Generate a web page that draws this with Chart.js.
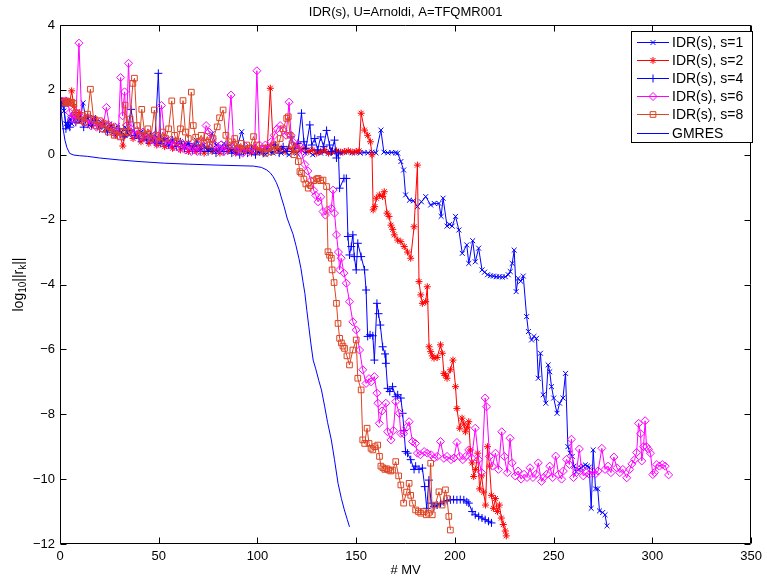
<!DOCTYPE html>
<html>
<head>
<meta charset="utf-8">
<script src="https://cdn.jsdelivr.net/npm/chart.js@4/dist/chart.umd.min.js"></script>
<style>
  html, body { margin: 0; padding: 0; background: #ffffff; }
  #wrap { width: 767px; height: 578px; }
</style>
</head>
<body>
<div id="wrap"><canvas id="c" width="767" height="578"></canvas></div>
<script>
// ---------------- data (x = # MV, y = log10 ||r_k||) ----------------
const chartTitle = 'IDR(s), U=Arnoldi, A=TFQMR001';
const xAxisLabel = '# MV';
const xTicks = [0, 50, 100, 150, 200, 250, 300, 350];
const yTicks = [-12, -10, -8, -6, -4, -2, 0, 2, 4];
const seriesNames = ['IDR(s), s=1', 'IDR(s), s=2', 'IDR(s), s=4', 'IDR(s), s=6', 'IDR(s), s=8', 'GMRES'];

const idrS1 = [[1,1.62],[2,1.35],[3,0.95],[4,0.85],[5,1.1],[6,0.95],[8,1.2],[10,1.05],[11.7,1.6],[13,1.1],[15,0.9],[17,1.15],[19,0.95],[21,1.0],[23,0.8],[25,0.95],[27,0.75],[29,0.9],[31,0.7],[33,0.85],[35,0.6],[37,0.75],[39,0.55],[41,0.7],[43,0.5],[45,0.6],[47,0.4],[49,0.55],[51,0.35],[53,0.5],[55,0.3],[57,0.45],[59,0.3],[61,0.4],[63,0.25],[65,0.35],[67,0.2],[69,0.45],[71,0.25],[73,0.3],[75,0.15],[77,0.65],[79,0.3],[81,0.2],[83,0.35],[85,0.15],[87,0.25],[89,0.1],[92,0.71],[94,0.2],[96,0.1],[98,0.25],[100,0.05],[102,0.15],[104,0.0],[106,0.1],[108,0.05],[110,0.15],[112,0.05],[114,0.1],[116,0.0],[118,0.1],[120,0.05],[122,0.15],[124,0.05],[126,0.1],[128,0.0],[130,0.08],[132,0.05],[134,0.1],[136,0.05],[138,0.08],[140,0.1],[142,0.05],[144,0.08],[146,0.1],[148,0.06],[150,0.08],[152,0.05],[154,0.07],[156,0.06],[158,0.08],[160,0.06],[162.5,0.76],[164,0.08],[166,0.06],[168,0.07],[170,0.06],[171,0.05],[172.6,-0.21],[174,-0.47],[175,-1.24],[177,-1.4],[179,-1.42],[181,-1.6],[183,-1.45],[185.2,-1.29],[187.7,-1.55],[189.5,-1.5],[191.9,-1.5],[193,-1.9],[194,-1.34],[196,-2.2],[197.3,-2.15],[198.6,-2.2],[200.3,-1.9],[202,-2.32],[203.7,-3.04],[206,-2.78],[207,-3.35],[209,-2.65],[210.3,-3.3],[212,-2.88],[213.7,-3.55],[215,-3.62],[216.5,-3.7],[218,-3.73],[219.5,-3.74],[221,-3.76],[222.5,-3.76],[224,-3.77],[225.5,-3.76],[227,-3.7],[228,-3.6],[229,-3.35],[230,-2.94],[231,-4.22],[232,-3.81],[233.3,-3.9],[234.6,-3.74],[236.3,-4.99],[237.2,-5.45],[238.8,-5.71],[240,-5.6],[241.3,-5.66],[242.2,-6.89],[243.3,-6.12],[244.7,-7.4],[246,-7.66],[247.2,-6.48],[248,-6.69],[248.9,-7.15],[250,-7.5],[251.7,-7.97],[253,-7.66],[254.7,-7.5],[256,-6.74],[257.2,-9.0],[258.3,-9.2],[259.4,-9.3],[260.3,-9.6],[261.4,-9.77],[262.7,-9.7],[264,-9.66],[265,-9.6],[266,-9.56],[267,-9.6],[268,-9.63],[269,-10.9],[270,-9.1],[271.2,-10.3],[272.3,-10.3],[273.2,-10.98],[274.8,-11.03],[276,-11.1],[277,-11.44]];

const idrS2 = [[1,1.65],[2,1.67],[3,1.63],[4,1.66],[5,1.62],[5.9,1.97],[7,1.5],[8,1.3],[9,1.15],[10,1.3],[12,1.05],[14,1.2],[16,0.9],[18,1.1],[20,0.85],[22,1.0],[24,0.75],[26,0.9],[28,0.6],[30,0.7],[31.8,0.27],[33,0.6],[35,0.75],[37,0.5],[39,0.65],[41,0.4],[43,0.55],[45,0.35],[47,0.5],[49,0.3],[51,0.45],[53,0.25],[55,0.4],[57,0.2],[59,0.35],[61,0.15],[63,0.3],[65,0.1],[67,0.25],[69,0.1],[71,0.2],[73,0.05],[75,0.2],[77,0.1],[79,0.15],[81,0.05],[83,0.2],[85,0.1],[87,0.15],[89,0.05],[91,0.2],[93,0.1],[95,0.15],[97,0.05],[99,0.2],[101,0.1],[103,0.15],[105,0.25],[106.5,2.05],[108,0.3],[110,0.15],[112,0.2],[114,0.1],[116,0.2],[118,0.1],[120,0.3],[122,0.15],[124,0.2],[126,0.1],[128,0.15],[130,0.05],[132,0.1],[134,0.15],[136,0.05],[138,0.1],[140,0.12],[142,0.08],[144,0.1],[146,0.12],[148,0.08],[150,0.1],[151.5,0.12],[152.5,1.28],[154.2,0.76],[155.8,0.6],[157.2,0.4],[158,0.0],[158.6,-1.7],[159.4,-1.6],[160.2,-1.34],[161.7,-1.24],[163.4,-1.29],[164.2,-1.14],[165.6,-1.8],[166.6,-1.9],[167.6,-2.17],[168.5,-2.3],[169.3,-2.47],[171,-2.63],[172.6,-2.68],[174.3,-2.83],[176,-3.0],[177.6,-3.19],[179.3,-2.22],[181,-0.32],[181.8,-3.91],[182.7,-4.32],[183.5,-4.58],[185.2,-4.53],[186,-4.07],[186.9,-5.92],[187.7,-6.07],[188.5,-6.2],[189.4,-6.27],[191,-6.25],[192.7,-5.86],[193.6,-6.12],[194.4,-6.74],[195.2,-6.8],[196,-6.89],[197.7,-6.63],[199,-6.33],[200.3,-7.15],[201,-7.82],[202.4,-8.43],[203.6,-8.12],[204.5,-8.3],[205.3,-8.54],[206.2,-8.4],[207,-8.23],[207.8,-9.1],[208.7,-9.5],[209.5,-9.92],[210.5,-9.7],[211.5,-9.2],[212.5,-10.3],[213.5,-9.9],[214.5,-10.4],[215.5,-10.8],[216.5,-9.0],[217.5,-9.6],[218.5,-10.5],[219.5,-10.9],[220.5,-10.6],[221.5,-11.0],[222.5,-10.8],[223.5,-11.2],[224.5,-11.4],[225.5,-11.6],[226,-11.75]];

const idrS4 = [[1,1.65],[2,1.5],[3,0.8],[4,1.0],[5,0.85],[6,1.2],[8,1.0],[10,1.1],[12,0.85],[14,1.15],[16,0.9],[18,1.05],[20,0.8],[22,0.95],[24,0.7],[26,0.85],[28,0.65],[30,0.8],[32,0.55],[34,0.75],[36,1.4],[38,0.6],[40,0.5],[42,0.65],[44,0.45],[46,0.6],[48,0.4],[49.8,2.51],[51,0.35],[53,0.5],[55,0.3],[57,0.45],[59,0.25],[61,0.4],[63,0.2],[65,0.35],[67,0.15],[69,0.3],[71,0.1],[73,0.25],[75,0.1],[77,0.2],[79,0.05],[81,0.2],[83,0.1],[85,0.3],[87,0.05],[89,0.15],[91,0.0],[93,0.1],[95,0.05],[97,0.2],[99,0.0],[101,0.1],[103,0.05],[105,0.2],[107,0.1],[109,0.3],[111,0.05],[113,0.25],[115,0.1],[117,0.55],[119,0.2],[120.5,0.35],[122.3,1.28],[123.5,0.4],[124.5,0.2],[126.5,0.92],[127.5,0.3],[129,0.5],[130.5,0.15],[132,0.55],[133.5,0.25],[135,0.75],[136.5,0.3],[137.5,0.1],[139,0.45],[140,-0.1],[141,0.05],[141.6,-1.03],[143.8,-0.73],[145,-0.73],[145.8,-2.52],[146.6,-3.09],[147.5,-2.83],[148.3,-2.47],[149,-3.14],[150,-3.55],[150.8,-2.73],[152.5,-3.14],[154.2,-3.55],[155,-4.17],[155.8,-5.6],[157,-5.55],[158.4,-5.58],[159.2,-6.33],[160.5,-4.58],[161.3,-4.9],[162.2,-5.25],[163.4,-5.92],[164.6,-6.14],[165,-6.43],[165.9,-7.2],[167,-7.3],[168.4,-7.15],[170,-7.46],[171,-7.4],[172.6,-7.5],[173.5,-7.97],[174.2,-8.5],[175,-9.15],[176,-9.2],[177.6,-9.4],[179.3,-9.7],[180.1,-9.6],[181.8,-9.7],[183.5,-9.66],[184.7,-10.23],[185.7,-10.9],[186.8,-10.03],[188,-10.74],[189.4,-10.85],[191,-10.8],[192.7,-10.75],[194.4,-10.7],[196,-10.66],[197.7,-10.64],[199.3,-10.63],[201,-10.64],[202.7,-10.63],[204.5,-10.64],[206,-10.7],[207,-10.74],[208.7,-11.0],[210.3,-11.1],[212,-11.15],[213.7,-11.2],[215.3,-11.25],[217,-11.3],[218.5,-11.35]];

const idrS6 = [[1,1.65],[2,1.62],[3,1.66],[4,1.6],[5,1.3],[6,1.1],[7,1.25],[8,1.05],[9.6,3.44],[11,1.15],[12.5,1.0],[14,1.1],[15.5,0.9],[17,1.05],[18.5,0.85],[20,1.0],[21.5,0.8],[23.5,1.46],[25,0.9],[26.5,0.7],[28,0.85],[29.5,0.6],[30.7,2.38],[31.7,1.2],[32.7,1.94],[33.7,0.9],[34.7,2.82],[36,0.8],[37.5,0.6],[39,0.75],[40.5,0.55],[42,0.7],[43.5,0.5],[45,0.65],[46.8,0.45],[48,0.6],[49.5,0.35],[51.4,1.52],[53,0.5],[54.5,0.3],[56,0.45],[57.5,0.25],[59,0.4],[60.5,0.2],[62,0.35],[63.5,0.15],[65,0.3],[66.5,0.1],[68,0.25],[69.5,0.1],[71,0.2],[72.5,0.4],[74,0.9],[75.5,0.7],[77,0.5],[78.5,0.3],[80,0.15],[81.5,0.3],[83,0.1],[84.5,0.25],[86.6,1.84],[88,0.3],[89.5,0.1],[91,0.2],[92.5,0.05],[94,0.25],[95.5,0.1],[97,0.2],[98.5,0.15],[99.7,2.59],[101,0.3],[102.5,0.15],[104,0.3],[105.5,0.2],[107,0.4],[108.5,0.6],[110,0.8],[111.5,0.9],[113,0.75],[114.5,0.6],[116,1.62],[117,0.6],[118,0.4],[119.8,0.2],[121,0.3],[122.5,0.0],[124,-0.3],[125.5,-0.5],[127,-0.8],[128.5,-1.1],[129.5,-1.25],[130.7,-1.45],[132,-1.3],[133.2,-1.75],[134.4,-1.86],[135.5,-1.7],[137.4,-1.65],[138.3,-1.09],[139,-1.8],[140,-2.47],[141,-3.0],[141.6,-3.55],[142.4,-3.19],[143.8,-3.65],[145,-3.96],[146.6,-4.53],[148.3,-5.15],[150,-5.4],[151.7,-6.02],[153.3,-6.63],[155,-7.05],[156.5,-6.9],[157.5,-7.0],[159.2,-6.84],[160.5,-7.35],[161,-7.66],[161.7,-8.28],[163,-7.9],[165,-7.66],[165.9,-8.54],[167.6,-8.79],[168.8,-8.5],[170,-7.61],[171.8,-7.97],[172.6,-8.59],[174,-8.6],[175.5,-8.4],[176.8,-8.23],[178.5,-8.84],[180,-8.9],[181,-9.2],[182.5,-9.25],[184.4,-9.15],[186,-9.2],[188,-9.25],[189.5,-9.35],[191,-9.3],[192.7,-8.84],[194.4,-9.36],[196,-9.3],[198,-9.4],[199.5,-9.35],[201,-8.87],[202.5,-9.3],[204,-9.4],[205.5,-9.3],[207,-9.1],[208.5,-9.35],[210.3,-8.43],[212,-9.4],[213.5,-9.8],[215.3,-7.5],[216,-7.77],[217.5,-9.3],[219,-9.6],[220.5,-9.2],[222,-9.7],[223.7,-8.54],[225,-9.3],[226.5,-9.8],[227.9,-8.74],[229,-9.5],[230.5,-9.9],[232,-9.75],[233.5,-10.0],[235,-9.85],[236.5,-9.95],[238,-9.65],[239.5,-9.95],[241,-9.85],[242.2,-9.5],[243.8,-10.07],[245,-9.95],[246.5,-9.85],[248,-9.6],[249.5,-9.95],[251,-9.29],[252.5,-9.85],[254,-10.0],[254.9,-9.75],[256.5,-9.39],[258,-9.55],[259,-8.77],[260,-9.95],[261.5,-9.8],[263,-9.07],[264,-9.65],[265,-9.9],[266.5,-9.8],[268,-9.85],[269.5,-9.75],[271,-9.85],[272.5,-9.75],[274.4,-9.05],[276,-9.7],[277.5,-9.6],[279,-9.8],[280.5,-9.32],[282,-9.65],[283.5,-9.8],[285,-9.7],[287,-9.96],[288.5,-9.7],[289.6,-9.53],[291,-9.4],[292,-9.18],[293,-8.28],[294,-8.6],[294.6,-9.44],[295.5,-9.0],[296.3,-8.2],[297,-9.0],[298,-9.08],[299,-9.2],[300.2,-9.86],[301,-9.8],[302.2,-9.55],[303.5,-9.6],[305,-9.55],[306.5,-9.6],[308.2,-9.87]];

const idrS8 = [[1,1.6],[2,1.62],[3,1.6],[4,1.65],[5,1.6],[6,1.62],[7,1.58],[8,1.3],[9.5,1.05],[11,1.2],[12.5,1.0],[14,1.25],[15.4,2.02],[17,1.1],[18.5,0.9],[20,1.05],[21.5,0.8],[23,0.95],[24.5,0.7],[26,0.85],[27.5,0.6],[29,0.75],[30.5,0.55],[32,0.7],[33,1.53],[34.5,0.7],[35.5,1.1],[36.9,2.2],[37.7,2.36],[39,0.9],[40.5,0.6],[41.4,1.4],[43,0.6],[44.5,0.8],[46,0.5],[47.8,1.38],[49,0.6],[50.5,0.4],[52,0.7],[53.5,0.5],[55,0.8],[56.6,1.66],[58,0.6],[59.5,0.4],[61,0.8],[62.3,1.67],[63.5,0.7],[65,0.5],[66.5,1.93],[67.5,0.9],[68.7,0.54],[70,0.4],[71.5,0.6],[73,0.35],[74.6,0.56],[76,0.3],[77.5,0.5],[79.6,0.86],[80.8,1.14],[82.6,1.38],[84,0.6],[85.5,0.4],[87,0.3],[88.5,0.5],[90,0.2],[91.5,0.35],[93,0.15],[94.5,0.3],[96,0.2],[98,0.56],[99.5,0.3],[101,0.1],[102.5,0.2],[104,0.05],[105.5,0.2],[107,0.1],[108.5,0.3],[110,0.15],[111.5,0.5],[113,0.8],[114.8,1.12],[115.6,1.17],[116.5,0.6],[117.5,0.3],[118.5,0.0],[119.5,0.2],[120.7,-0.21],[121.5,-0.52],[122.3,-0.57],[123.5,-0.75],[124.5,-0.9],[125.7,-1.03],[127,-0.95],[128.5,-0.8],[130,-0.75],[130.7,-0.73],[132,-0.8],[133.2,-0.78],[135,-0.98],[135.7,-2.99],[136.5,-3.1],[137.4,-3.19],[137.8,-3.55],[138.8,-3.94],[140,-4.58],[140.8,-5.2],[141.6,-5.66],[142.5,-5.8],[143.3,-5.9],[144.1,-5.97],[145.3,-6.2],[146.6,-6.48],[148.3,-6.02],[150,-5.71],[150.8,-6.89],[152.5,-7.25],[153.3,-8.79],[154.3,-8.9],[155.5,-8.43],[156.5,-8.9],[157.5,-9.05],[158.4,-9.1],[159.5,-9.0],[160.9,-8.95],[161.8,-9.3],[162.5,-9.6],[163.5,-9.65],[164.5,-9.7],[165.5,-9.68],[166.5,-9.72],[167.5,-9.75],[168.4,-9.72],[170,-9.46],[171.5,-9.9],[172.6,-10.18],[174,-10.74],[175.5,-10.4],[176.8,-10.13],[177.6,-10.5],[178.5,-10.74],[180.1,-10.95],[181.5,-11.0],[182.7,-11.05],[184,-11.0],[185.5,-11.1],[186.5,-11.05],[187.7,-9.51],[188.5,-11.1],[190,-10.8],[191.9,-10.39],[193.5,-10.8],[195.2,-10.33],[196,-10.6],[196.9,-11.15],[197.7,-11.57]];

const gmres = [[0,1.65],[0.5,1.4],[1,1.1],[1.7,0.76],[2.5,0.45],[3.5,0.22],[4.9,0.04],[7,-0.01],[10,-0.03],[14,-0.05],[20,-0.1],[30,-0.16],[40,-0.21],[52.8,-0.26],[65,-0.29],[80,-0.32],[98,-0.35],[102,-0.39],[104.7,-0.47],[106.5,-0.56],[108,-0.68],[109.5,-0.85],[111,-1.08],[112,-1.3],[113.5,-1.6],[115,-1.95],[116.5,-2.2],[118,-2.45],[119.5,-2.8],[121,-3.2],[122,-3.5],[123,-3.9],[124,-4.27],[125,-4.8],[126,-5.3],[127,-5.8],[128.2,-6.33],[129.5,-6.6],[131,-6.95],[132.4,-7.25],[134,-7.75],[135.5,-8.25],[137.4,-8.79],[139,-9.4],[140.8,-10.13],[142.5,-10.6],[144,-10.95],[145.5,-11.25],[146.6,-11.47]];

// ---------------- styling ----------------
const FONT = "'Liberation Sans', Arial, Helvetica, sans-serif";
const seriesColors = ['#0000ff', '#ff0000', '#0000ff', '#ff00ff', '#dd4422', '#0000ff'];
const seriesMarkers = ['crossRot', 'star', 'cross', 'rectRot', 'rect', false];
const seriesRadius = [3.5, 3.5, 4, 4, 4, 0];
const seriesData = [idrS1, idrS2, idrS4, idrS6, idrS8, gmres];

const toPts = arr => arr.map(p => ({ x: p[0], y: p[1] }));

const datasets = seriesData.map((d, i) => ({
  label: seriesNames[i],
  data: toPts(d),
  showLine: true,
  borderColor: seriesColors[i],
  backgroundColor: 'rgba(0,0,0,0)',
  borderWidth: 1,
  pointStyle: seriesMarkers[i] || 'circle',
  pointRadius: seriesRadius[i],
  pointHoverRadius: seriesRadius[i],
  pointBorderColor: seriesColors[i],
  pointBackgroundColor: 'rgba(0,0,0,0)',
  pointBorderWidth: 1,
  tension: 0,
  order: seriesData.length - 1 - i
}));

function drawMarker(ctx, style, x, y, r) {
  ctx.beginPath();
  const d = r * Math.SQRT1_2;
  if (style === 'cross') {
    ctx.moveTo(x - r, y); ctx.lineTo(x + r, y);
    ctx.moveTo(x, y - r); ctx.lineTo(x, y + r);
  } else if (style === 'crossRot') {
    ctx.moveTo(x - d, y - d); ctx.lineTo(x + d, y + d);
    ctx.moveTo(x - d, y + d); ctx.lineTo(x + d, y - d);
  } else if (style === 'star') {
    ctx.moveTo(x - r, y); ctx.lineTo(x + r, y);
    ctx.moveTo(x, y - r); ctx.lineTo(x, y + r);
    ctx.moveTo(x - d, y - d); ctx.lineTo(x + d, y + d);
    ctx.moveTo(x - d, y + d); ctx.lineTo(x + d, y - d);
  } else if (style === 'rectRot') {
    ctx.moveTo(x - r, y); ctx.lineTo(x, y - r); ctx.lineTo(x + r, y); ctx.lineTo(x, y + r); ctx.closePath();
  } else if (style === 'rect') {
    ctx.rect(x - d, y - d, 2 * d, 2 * d);
  }
  ctx.stroke();
}

const decorPlugin = {
  id: 'decor',
  afterDatasetsDraw(chart) {
    const ctx = chart.ctx;
    const a = chart.chartArea;
    const xs = chart.scales.x, ys = chart.scales.y;
    ctx.save();
    // axes box
    const L = Math.round(a.left) + 0.5, R = Math.round(a.right) - 0.5;
    const T = Math.round(a.top) + 0.5, B = Math.round(a.bottom) - 0.5;
    ctx.strokeStyle = '#000';
    ctx.lineWidth = 1;
    ctx.beginPath();
    ctx.rect(L, T, R - L, B - T);
    ctx.stroke();
    // inward ticks on all four sides
    const tl = 6;
    ctx.beginPath();
    xTicks.forEach(v => {
      const px = Math.round(xs.getPixelForValue(v)) + 0.5;
      ctx.moveTo(px, B); ctx.lineTo(px, B - tl);
      ctx.moveTo(px, T); ctx.lineTo(px, T + tl);
    });
    yTicks.forEach(v => {
      const py = Math.round(ys.getPixelForValue(v)) + 0.5;
      ctx.moveTo(L, py); ctx.lineTo(L + tl, py);
      ctx.moveTo(R, py); ctx.lineTo(R - tl, py);
    });
    ctx.stroke();
    ctx.restore();
  },
  afterDraw(chart) {
    const ctx = chart.ctx;
    const a = chart.chartArea;
    const cx = (a.left + a.right) / 2;
    ctx.save();
    ctx.fillStyle = '#000';
    // title
    ctx.font = '13px ' + FONT;
    ctx.textAlign = 'center';
    ctx.textBaseline = 'middle';
    ctx.fillText(chartTitle, cx, 12);
    // x label
    ctx.font = '13px ' + FONT;
    ctx.fillText(xAxisLabel, cx, 570);
    // y label with subscripts: log_10 ||r_k||
    ctx.translate(19, (a.top + a.bottom) / 2 + 0);
    ctx.rotate(-Math.PI / 2);
    ctx.textAlign = 'left';
    ctx.textBaseline = 'middle';
    const parts = [
      { t: 'log', f: '14px ' + FONT, dy: 0 },
      { t: '10', f: '10px ' + FONT, dy: 4 },
      { t: '||r', f: '14px ' + FONT, dy: 0 },
      { t: 'k', f: '10px ' + FONT, dy: 4 },
      { t: '||', f: '14px ' + FONT, dy: 0 }
    ];
    let total = 0;
    parts.forEach(p => { ctx.font = p.f; p.w = ctx.measureText(p.t).width; total += p.w; });
    let px = -total / 2;
    parts.forEach(p => { ctx.font = p.f; ctx.fillText(p.t, px, p.dy); px += p.w; });
    ctx.restore();

    // legend
    ctx.save();
    const bx = 631.5, by = 31.5, bw = 121, bh = 111;
    ctx.fillStyle = '#fff';
    ctx.fillRect(bx, by, bw, bh);
    ctx.strokeStyle = '#000';
    ctx.lineWidth = 1;
    ctx.strokeRect(bx, by, bw, bh);
    ctx.font = '14px ' + FONT;
    ctx.textAlign = 'left';
    ctx.textBaseline = 'middle';
    seriesNames.forEach((name, i) => {
      const yy = Math.round(42 + i * 18.1) + 0.5;
      ctx.strokeStyle = seriesColors[i];
      ctx.lineWidth = 1;
      ctx.beginPath();
      ctx.moveTo(637, yy); ctx.lineTo(669, yy);
      ctx.stroke();
      if (seriesMarkers[i]) drawMarker(ctx, seriesMarkers[i], 653, yy, seriesRadius[i]);
      ctx.fillStyle = '#000';
      ctx.fillText(name, 672, yy + 0.5);
    });
    ctx.restore();
  }
};

const minusFmt = v => (v < 0 ? '\u2212' + Math.abs(v) : String(v));

new Chart(document.getElementById('c'), {
  type: 'scatter',
  data: { datasets },
  options: {
    responsive: false,
    animation: false,
    devicePixelRatio: 1,
    layout: { padding: { top: 25, right: 11, left: 0, bottom: 0 } },
    plugins: {
      legend: { display: false },
      title: { display: false },
      tooltip: { enabled: false }
    },
    elements: { line: { borderWidth: 1 } },
    scales: {
      x: {
        type: 'linear',
        min: 0, max: 350,
        afterFit: s => { s.height = 34; },
        afterBuildTicks: s => { s.ticks = xTicks.map(v => ({ value: v })); },
        grid: { display: false, drawTicks: false },
        border: { display: false },
        ticks: { color: '#000', font: { size: 13, family: FONT }, padding: 5, maxRotation: 0, autoSkip: false, callback: minusFmt }
      },
      y: {
        type: 'linear',
        min: -12, max: 4,
        afterFit: s => { s.width = 60; },
        afterBuildTicks: s => { s.ticks = yTicks.map(v => ({ value: v })); },
        grid: { display: false, drawTicks: false },
        border: { display: false },
        ticks: { color: '#000', font: { size: 13, family: FONT }, padding: 5, autoSkip: false, callback: minusFmt }
      }
    }
  },
  plugins: [decorPlugin]
});
</script>
</body>
</html>
